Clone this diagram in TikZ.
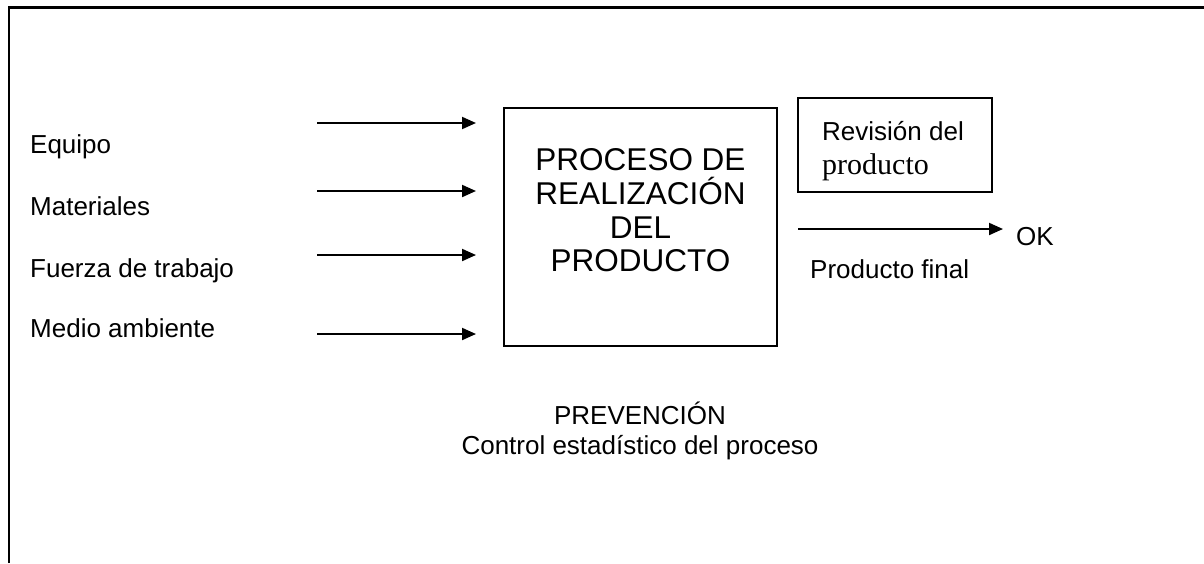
\documentclass[tikz,border=0pt]{standalone}
\usepackage{fontspec}
\setmainfont{Liberation Sans}
\newfontfamily\timesfont{Liberation Serif}
\usetikzlibrary{arrows.meta}

\begin{document}
\begin{tikzpicture}[x=1pt,y=-1pt]
	\tikzstyle{entrada}=[anchor=base west,inner sep=0pt,font=\fontsize{26}{30}\selectfont]
	\tikzstyle{grande}=[anchor=base,inner sep=0pt,font=\fontsize{31.5}{35}\selectfont]
	\tikzstyle{flecha}=[line width=2pt,-{Triangle[length=14pt,width=12pt]}]
	\tikzstyle{caja}=[draw,line width=2pt,inner sep=0pt]
	\useasboundingbox (0,0) rectangle (1204,563);
	% marco
	\draw[line width=2.5pt] (9,563) -- (9,7.5) -- (1204,7.5);
	% entradas
	\node (equipo) [entrada] at (30,153) {Equipo};
	\node (materiales) [entrada] at (30,215) {Materiales};
	\node (fuerza) [entrada] at (30,277) {Fuerza de trabajo};
	\node (medio) [entrada] at (30,337) {Medio ambiente};
	\coordinate (a1) at (317,123);  \coordinate (b1) at (476,123);
	\coordinate (a2) at (317,191);  \coordinate (b2) at (476,191);
	\coordinate (a3) at (317,255);  \coordinate (b3) at (476,255);
	\coordinate (a4) at (317,334);  \coordinate (b4) at (476,334);
	\draw[flecha] (a1) -- (b1);
	\draw[flecha] (a2) -- (b2);
	\draw[flecha] (a3) -- (b3);
	\draw[flecha] (a4) -- (b4);
	% proceso
	\node (proceso) [caja, minimum width=273pt, minimum height=238pt] at (640.5,227) {};
	\node (p1) [grande] at (640.5,170) {PROCESO DE};
	\node (p2) [grande] at (640.5,204) {REALIZACIÓN};
	\node (p3) [grande] at (640.5,238) {DEL};
	\node (p4) [grande] at (640.5,271) {PRODUCTO};
	% revision
	\node (revision) [caja, minimum width=194pt, minimum height=94pt] at (895,145) {};
	\node (rev1) [entrada] at (822,140) {Revisión del};
	\node (rev2) [entrada, font=\timesfont\fontsize{30}{34}\selectfont] at (822,174) {producto};
	% salida
	\coordinate (s0) at (798,229);
	\coordinate (s1) at (1003,229);
	\draw[flecha] (s0) -- (s1);
	\node (ok) [entrada] at (1016,245) {OK};
	\node (final) [entrada] at (810,278) {Producto final};
	% prevencion
	\node (prev) [entrada, anchor=base] at (640,424) {PREVENCIÓN};
	\node (control) [entrada, anchor=base] at (640,454) {Control estadístico del proceso};
\end{tikzpicture}
\end{document}
